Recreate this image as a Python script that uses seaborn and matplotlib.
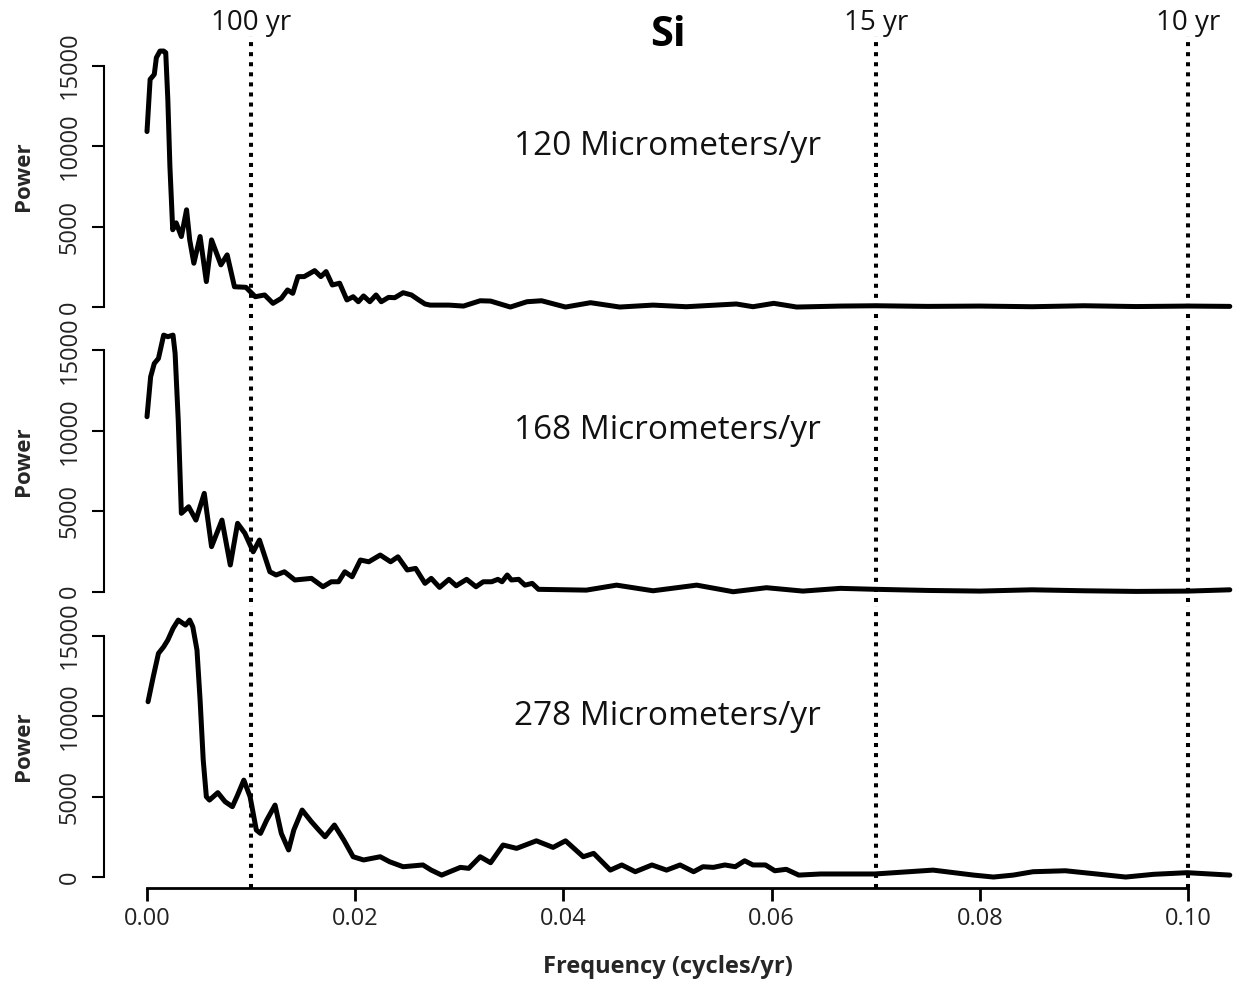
import numpy as np
import pandas as pd
import matplotlib
matplotlib.use("Agg")
import matplotlib.pyplot as plt
import seaborn as sns

# ---------------- data ----------------
rates = ["120 Micrometers/yr", "168 Micrometers/yr", "278 Micrometers/yr"]

freq_120 = [0.0, 0.0003, 0.0007, 0.0009, 0.00125, 0.0016, 0.0018, 0.002, 0.0022, 0.00247,
            0.0028, 0.0033, 0.0038, 0.0041, 0.0045, 0.0051, 0.0057, 0.0062, 0.0071, 0.0077,
            0.0084, 0.0095, 0.0104, 0.0113, 0.0121, 0.0129, 0.0135, 0.014, 0.0145, 0.0151,
            0.0161, 0.0167, 0.0172, 0.0178, 0.0185, 0.0192, 0.0198, 0.0203, 0.0208, 0.0214,
            0.022, 0.0225, 0.0232, 0.0238, 0.0246, 0.0254, 0.0261, 0.0267, 0.0272, 0.029,
            0.0304, 0.032, 0.033, 0.0349, 0.0365, 0.0379, 0.0402, 0.0426, 0.0454, 0.0486,
            0.0518, 0.0566, 0.0582, 0.0602, 0.0624, 0.0666, 0.07, 0.075, 0.08, 0.085,
            0.09, 0.095, 0.1, 0.104]
power_120 = [10900, 14140, 14450, 15490, 15900, 15900, 15800, 12900, 8740, 4800,
             5230, 4380, 6040, 4170, 2720, 4380, 1580, 4170, 2620, 3240,
             1260, 1225, 640, 750, 230, 540, 1060, 850, 1890, 1890,
             2260, 1890, 2200, 1370, 1480, 440, 640, 330, 690, 330,
             750, 330, 600, 580, 890, 750, 440, 190, 120, 120,
             60, 390, 370, 0, 330, 390, 0, 270, 0, 120,
             20, 190, 20, 230, 0, 60, 80, 40, 60, 20,
             80, 30, 60, 40]

freq_168 = [0.0, 0.00035, 0.0007, 0.0011, 0.0016, 0.002, 0.0025, 0.0027, 0.003, 0.0033,
            0.004, 0.0047, 0.0055, 0.0062, 0.0072, 0.008, 0.0087, 0.0094, 0.0102, 0.0108,
            0.0118, 0.0124, 0.0132, 0.0142, 0.0158, 0.0169, 0.0177, 0.0184, 0.019, 0.0197,
            0.0205, 0.0213, 0.0224, 0.0234, 0.0241, 0.025, 0.0258, 0.0267, 0.0273, 0.0281,
            0.029, 0.0297, 0.0307, 0.0316, 0.0323, 0.0331, 0.0337, 0.0341, 0.0346, 0.035,
            0.0357, 0.0363, 0.037, 0.0376, 0.0422, 0.0451, 0.0486, 0.0528, 0.0563, 0.0595,
            0.063, 0.0666, 0.07, 0.075, 0.08, 0.085, 0.09, 0.095, 0.1, 0.104]
power_168 = [10870, 13350, 14180, 14490, 15940, 15840, 15940, 14800, 10660, 4870,
             5280, 4450, 6110, 2800, 4450, 1660, 4250, 3630, 2480, 3210,
             1240, 1040, 1240, 730, 830, 310, 620, 620, 1240, 930,
             1970, 1860, 2280, 1860, 2170, 1350, 1450, 520, 830, 270,
             770, 370, 770, 310, 620, 620, 770, 620, 1040, 730,
             770, 410, 520, 150, 100, 410, 60, 410, 0, 250,
             40, 210, 150, 80, 40, 120, 60, 20, 40, 120]

freq_278 = [0.0001, 0.0006, 0.0011, 0.0016, 0.002, 0.0025, 0.003, 0.0037, 0.0041, 0.0044,
            0.0048, 0.0051, 0.0054, 0.0057, 0.006, 0.0068, 0.0075, 0.0082, 0.0087, 0.0093,
            0.0099, 0.0105, 0.0109, 0.0115, 0.0123, 0.0129, 0.0136, 0.0141, 0.0149, 0.0158,
            0.0165, 0.0171, 0.018, 0.0189, 0.0198, 0.0208, 0.0224, 0.0233, 0.0246, 0.0265,
            0.0273, 0.0283, 0.0301, 0.0309, 0.032, 0.033, 0.0342, 0.0355, 0.0374, 0.039,
            0.0402, 0.0419, 0.0429, 0.0445, 0.0456, 0.0469, 0.0485, 0.0499, 0.0512, 0.0525,
            0.0534, 0.0544, 0.0555, 0.0565, 0.0574, 0.0582, 0.0594, 0.0603, 0.0614, 0.0626,
            0.0647, 0.0699, 0.0755, 0.0794, 0.0813, 0.0832, 0.0851, 0.0882, 0.0912, 0.094,
            0.0967, 0.0999, 0.104]
power_278 = [10890, 12440, 13890, 14300, 14720, 15440, 15960, 15650, 15960, 15540,
             14100, 10990, 7270, 4990, 4780, 5240, 4680, 4370, 5090, 6020,
             4990, 2920, 2710, 3540, 4470, 2710, 1680, 2920, 4160, 3430,
             2920, 2500, 3230, 2300, 1260, 1060, 1260, 950, 640, 750,
             430, 120, 600, 540, 1260, 890, 1990, 1780, 2250, 1840,
             2250, 1260, 1470, 430, 750, 330, 750, 430, 750, 330,
             640, 600, 750, 640, 1010, 750, 750, 390, 480, 120,
             190, 190, 430, 120, 0, 120, 330, 390, 190, 0,
             170, 270, 120]

period_lines = [0.01, 0.07, 0.10]
period_labels = ["100 yr", "15 yr", "10 yr"]
y_ticks = [0, 5000, 10000, 15000]
x_ticks = [0.00, 0.02, 0.04, 0.06, 0.08, 0.10]
x_tick_labels = ["0.00", "0.02", "0.04", "0.06", "0.08", "0.10"]

series = [(freq_120, power_120), (freq_168, power_168), (freq_278, power_278)]

# ---------------- style ----------------
sns.set_theme(style="ticks")
plt.rcParams["font.family"] = ["Open Sans", "DejaVu Sans"]

W, H = 1235, 983
fig = plt.figure(figsize=(W / 100, H / 100), dpi=100)

left = 104 / W
width = (W - 104) / W
ax_h = 281.75 / H
bottoms_px = [317.5, 602.2, 887.5]

axes = []
for i, (fx, py) in enumerate(series):
    ax = fig.add_axes([left, (H - bottoms_px[i]) / H, width, ax_h])
    ax.set_facecolor("none")
    df = pd.DataFrame({"Frequency": fx, "Power": py})
    sns.lineplot(data=df, x="Frequency", y="Power", ax=ax, color="black",
                 linewidth=3.6, estimator=None, sort=False, solid_joinstyle="round",
                 solid_capstyle="round")
    for xv in period_lines:
        ax.axvline(xv, color="black", linewidth=2.9, linestyle=(0, (1.0, 1.5)),
                   dash_capstyle="butt")
    ax.set_xlim(-0.00413, 0.1045)
    ax.set_ylim(-650, 16850)
    ax.set_yticks(y_ticks)
    ax.set_yticklabels([str(v) for v in y_ticks], rotation=90, va="center",
                       fontsize=17, color="#222222")
    ax.tick_params(axis="y", length=9, width=1.5, pad=7, color="black")
    for s in ["top", "right"]:
        ax.spines[s].set_visible(False)
    ax.spines["left"].set_bounds(0, 15000)
    ax.spines["left"].set_linewidth(1.5)
    ax.spines["left"].set_color("black")
    ax.set_ylabel("Power", fontsize=16, fontweight="bold", va="center")
    ax.yaxis.set_label_coords(-0.0716, 0.5)
    ax.text(0.05, 10000, rates[i], ha="center", va="center", fontsize=24,
            color="#111111")
    if i < 2:
        ax.spines["bottom"].set_visible(False)
        ax.tick_params(axis="x", bottom=False, labelbottom=False)
        ax.set_xlabel("")
    else:
        ax.spines["bottom"].set_bounds(0, 0.10)
        ax.spines["bottom"].set_linewidth(2.0)
        ax.spines["bottom"].set_color("black")
        ax.set_xticks(x_ticks)
        ax.set_xticklabels(x_tick_labels, fontsize=17, color="#222222")
        ax.tick_params(axis="x", length=9, width=2.0, pad=5, color="black")
        ax.set_xlabel("Frequency (cycles/yr)", fontsize=17, fontweight="bold",
                      va="center")
        ax.xaxis.set_label_coords(0.4987, -0.282)
    axes.append(ax)

top = axes[0]
trans = top.get_xaxis_transform()
for xv, lab in zip(period_lines, period_labels):
    top.text(xv, 1.045, lab, transform=trans, ha="center", va="center",
             fontsize=20, color="#111111", clip_on=False)
top.text(0.05, 1.0, "Si", transform=trans, ha="center", va="center",
         fontsize=30, fontweight="bold", color="black", clip_on=False)

fig.savefig("out.png", dpi=100)
